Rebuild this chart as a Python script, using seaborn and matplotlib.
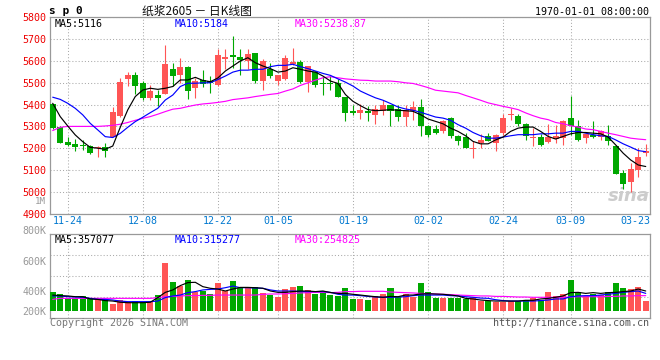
import numpy as np
import pandas as pd
import matplotlib
matplotlib.use("Agg")
import matplotlib.pyplot as plt
import seaborn as sns
from matplotlib.ticker import FixedLocator

# ---------------- data ----------------
opens = [5402, 5296, 5230, 5220, 5215, 5210, 5202, 5204, 5253, 5348,
         5519, 5536, 5501, 5429, 5444, 5447, 5564, 5535, 5574, 5475,
         5513, 5510, 5488, 5611, 5626, 5620, 5600, 5635, 5508, 5565,
         5508, 5518, 5586, 5597, 5503, 5549, 5500, 5500, 5500, 5435,
         5372, 5362, 5369, 5354, 5369, 5400, 5382, 5342, 5369, 5389,
         5303, 5289, 5280, 5338, 5257, 5250, 5198, 5223, 5254, 5223,
         5272, 5352, 5349, 5312, 5249, 5250, 5227, 5242, 5246, 5338,
         5300, 5246, 5261, 5250, 5254, 5211, 5088, 5045, 5100, 5177]
highs = [5405, 5302, 5250, 5241, 5238, 5213, 5210, 5223, 5388, 5524,
         5550, 5550, 5510, 5489, 5467, 5674, 5593, 5612, 5577, 5521,
         5559, 5531, 5655, 5654, 5715, 5654, 5654, 5635, 5608, 5592,
         5535, 5626, 5661, 5605, 5577, 5554, 5531, 5531, 5518, 5435,
         5400, 5404, 5392, 5400, 5423, 5400, 5400, 5400, 5415, 5427,
         5308, 5308, 5331, 5343, 5262, 5272, 5231, 5265, 5272, 5265,
         5358, 5385, 5358, 5315, 5292, 5265, 5312, 5308, 5331, 5438,
         5331, 5266, 5323, 5284, 5308, 5215, 5100, 5131, 5200, 5220]
lows = [5290, 5223, 5210, 5189, 5192, 5174, 5161, 5161, 5250, 5345,
        5486, 5449, 5421, 5421, 5394, 5447, 5487, 5498, 5424, 5429,
        5483, 5455, 5485, 5565, 5569, 5538, 5565, 5500, 5469, 5523,
        5488, 5515, 5580, 5500, 5457, 5481, 5446, 5469, 5435, 5323,
        5354, 5334, 5323, 5312, 5354, 5300, 5323, 5300, 5331, 5258,
        5250, 5265, 5272, 5246, 5215, 5200, 5154, 5200, 5231, 5188,
        5261, 5331, 5303, 5238, 5208, 5208, 5223, 5223, 5215, 5262,
        5231, 5223, 5246, 5238, 5215, 5080, 5011, 4998, 5069, 5162]
closes = [5294, 5226, 5215, 5207, 5210, 5180, 5205, 5189, 5368, 5504,
          5536, 5487, 5429, 5463, 5432, 5587, 5533, 5571, 5464, 5510,
          5495, 5501, 5626, 5620, 5620, 5605, 5631, 5508, 5600, 5531,
          5535, 5615, 5597, 5503, 5577, 5492, 5493, 5495, 5435, 5362,
          5362, 5377, 5362, 5382, 5400, 5369, 5342, 5377, 5389, 5300,
          5261, 5272, 5326, 5254, 5231, 5200, 5200, 5238, 5234, 5261,
          5338, 5355, 5311, 5254, 5251, 5215, 5250, 5254, 5323, 5300,
          5238, 5265, 5250, 5277, 5231, 5080, 5034, 5103, 5161, 5185]

ma5 = [5406, 5345, 5302, 5261, 5230, 5204, 5200, 5195, 5210, 5296,
       5376, 5437, 5467, 5475, 5470, 5475, 5483, 5513, 5513, 5525,
       5511, 5505, 5522, 5554, 5577, 5600, 5615, 5592, 5577, 5565,
       5549, 5554, 5569, 5562, 5554, 5549, 5531, 5508, 5497, 5446,
       5415, 5395, 5377, 5372, 5374, 5377, 5374, 5372, 5369, 5354,
       5334, 5323, 5312, 5292, 5277, 5257, 5231, 5220, 5220, 5238,
       5251, 5277, 5292, 5297, 5297, 5277, 5254, 5242, 5254, 5266,
       5272, 5272, 5269, 5266, 5251, 5215, 5177, 5146, 5123, 5116]
ma10 = [5434, 5424, 5406, 5383, 5353, 5314, 5284, 5253, 5249, 5268,
        5296, 5322, 5342, 5363, 5383, 5421, 5444, 5483, 5498, 5498,
        5500, 5500, 5515, 5531, 5549, 5558, 5558, 5562, 5562, 5574,
        5580, 5580, 5585, 5574, 5565, 5554, 5543, 5534, 5518, 5503,
        5485, 5462, 5446, 5431, 5420, 5405, 5389, 5380, 5374, 5365,
        5354, 5343, 5338, 5328, 5308, 5292, 5272, 5257, 5246, 5246,
        5251, 5257, 5262, 5262, 5262, 5266, 5266, 5269, 5269, 5277,
        5277, 5269, 5262, 5257, 5254, 5238, 5220, 5205, 5189, 5184]
ma30 = [5281, 5296, 5300, 5300, 5300, 5300, 5300, 5302, 5305, 5310,
        5318, 5328, 5337, 5345, 5356, 5368, 5379, 5383, 5391, 5398,
        5403, 5406, 5410, 5415, 5423, 5427, 5431, 5437, 5442, 5447,
        5451, 5462, 5472, 5488, 5500, 5512, 5523, 5528, 5523, 5518,
        5515, 5512, 5511, 5508, 5508, 5508, 5505, 5500, 5497, 5488,
        5478, 5466, 5462, 5458, 5454, 5442, 5431, 5420, 5408, 5400,
        5392, 5385, 5377, 5362, 5349, 5338, 5331, 5318, 5312, 5303,
        5297, 5288, 5285, 5277, 5269, 5262, 5254, 5246, 5242, 5239]

# volume, in thousands, on the panel's labelled scale
volumes = [393, 380, 351, 351, 369, 347, 347, 347, 313, 340,
           325, 333, 325, 325, 373, 589, 460, 433, 473, 396,
           402, 380, 453, 400, 467, 418, 418, 427, 384, 373,
           362, 413, 427, 433, 407, 380, 384, 373, 367, 422,
           347, 347, 340, 367, 380, 422, 362, 380, 362, 453,
           391, 353, 353, 353, 353, 347, 362, 333, 333, 329,
           329, 333, 333, 340, 351, 340, 391, 369, 380, 473,
           391, 369, 378, 373, 393, 453, 422, 413, 429, 333]
vol_ma5 = [373, 369, 367, 362, 362, 347, 344, 336, 333, 325,
           322, 322, 322, 325, 356, 391, 407, 436, 456, 458,
           429, 418, 413, 400, 413, 424, 424, 422, 418, 400,
           391, 391, 396, 400, 400, 396, 400, 390, 384, 384,
           378, 373, 367, 362, 358, 364, 362, 373, 373, 380,
           382, 380, 378, 373, 367, 351, 347, 340, 336, 333,
           333, 333, 333, 338, 338, 347, 351, 358, 367, 389,
           391, 384, 389, 384, 389, 391, 396, 400, 413, 400]
vol_ma10 = [367, 367, 362, 360, 358, 351, 344, 344, 340, 333,
            329, 329, 329, 329, 333, 356, 367, 373, 389, 396,
            407, 411, 413, 422, 433, 422, 422, 420, 418, 407,
            400, 400, 400, 396, 396, 396, 396, 391, 378, 373,
            373, 369, 364, 360, 358, 358, 360, 362, 369, 373,
            373, 373, 373, 369, 367, 362, 358, 353, 351, 342,
            336, 333, 333, 333, 333, 336, 340, 347, 347, 362,
            367, 369, 369, 373, 378, 384, 391, 396, 400, 384]
vol_ma30 = [344, 351, 351, 351, 351, 351, 351, 351, 351, 351,
            351, 351, 351, 351, 356, 362, 364, 367, 369, 369,
            371, 371, 373, 373, 373, 373, 373, 373, 378, 380,
            380, 382, 384, 387, 389, 391, 391, 389, 391, 396,
            396, 398, 398, 398, 398, 393, 391, 389, 387, 384,
            382, 380, 378, 376, 373, 371, 369, 367, 367, 364,
            364, 362, 360, 360, 358, 358, 358, 358, 358, 360,
            362, 362, 362, 362, 364, 364, 367, 367, 369, 369]

date_labels = ["11-24", "12-08", "12-22", "01-05", "01-19", "02-02", "02-24", "03-09", "03-23"]
date_index = [2, 12, 22, 30, 40, 50, 60, 69, 79]
price_ticks = [4900, 5000, 5100, 5200, 5300, 5400, 5500, 5600, 5700, 5800]
vol_tick_labels = ["200K", "400K", "600K", "800K", "1M"]
vol_tick_values = [269, 400, 600, 800, 1000]

legend_price = ["MA5:5116", "MA10:5184", "MA30:5238.87"]
legend_vol = ["MA5:357077", "MA10:315277", "MA30:254825"]

# ---------------- styling ----------------
sns.set_theme(style="white")
plt.rcParams["font.family"] = ["DejaVu Sans Mono", "Noto Sans CJK SC"]

RED = "#FF5555"
GREEN = "#00A800"
GRID = "#AAAAAA"
FRAME = "#999999"
MONO = 7.2
LW = 0.85

W, H = 660, 360
fig = plt.figure(figsize=(6.6, 3.6), dpi=100)
fig.patch.set_facecolor("white")


def fx(px):
    return px / W


def fy(py):
    return 1 - py / H


ax = fig.add_axes([fx(50), fy(213.6), (650 - 50) / W, (213.6 - 17.4) / H])
axv = fig.add_axes([fx(50), fy(317.7), (650 - 50) / W, (317.7 - 234) / H])

n = len(closes)
df = pd.DataFrame({"i": np.arange(n), "open": opens, "high": highs, "low": lows,
                   "close": closes, "ma5": ma5, "ma10": ma10, "ma30": ma30,
                   "vol": volumes, "vma5": vol_ma5, "vma10": vol_ma10, "vma30": vol_ma30})
df["up"] = df["close"] >= df["open"]
df["color"] = np.where(df["up"], RED, GREEN)

xmin, xmax = -0.36, 79.57
for a in (ax, axv):
    a.set_xlim(xmin, xmax)
    a.set_facecolor("white")
    for s in a.spines.values():
        s.set_visible(True)
        s.set_color(FRAME)
        s.set_linewidth(0.9)
    a.tick_params(length=0)

# ---------- price panel ----------
ax.set_ylim(4900, 5800)
body_w = 0.8
body_bottom = np.minimum(df["open"], df["close"])
body_h = np.maximum(np.abs(df["close"] - df["open"]), 4)
ax.vlines(df["i"], df["low"], df["high"], colors=df["color"], linewidth=0.8, zorder=3)
ax.bar(df["i"], body_h, bottom=body_bottom, width=body_w, color=df["color"],
       linewidth=0, zorder=4)
sns.lineplot(data=df, x="i", y="ma30", ax=ax, color="#FF00FF", linewidth=LW, zorder=5)
sns.lineplot(data=df, x="i", y="ma10", ax=ax, color="#0000FF", linewidth=LW, zorder=6)
sns.lineplot(data=df, x="i", y="ma5", ax=ax, color="#000000", linewidth=LW, zorder=7)
ax.set_xlabel("")
ax.set_ylabel("")

ax.yaxis.set_major_locator(FixedLocator(price_ticks))
ax.set_yticklabels([str(t) for t in price_ticks], color="#EE0000", fontsize=MONO)
ax.tick_params(axis="y", pad=2.6)

xt = list(date_index[:-1]) + [xmax]
ax.xaxis.set_major_locator(FixedLocator(xt))
ax.set_xticklabels(date_labels, color="#0078D0", fontsize=MONO)
ax.tick_params(axis="x", pad=2.0)
ax.get_xticklabels()[-1].set_ha("right")

ax.grid(True, which="major", color=GRID, linestyle=(0, (1, 2)), linewidth=0.75)
ax.set_axisbelow(True)

ax.text(0.008, 0.965, legend_price[0], transform=ax.transAxes, color="black",
        fontsize=MONO, ha="left", va="center")
ax.text(0.207, 0.965, legend_price[1], transform=ax.transAxes, color="#0000FF",
        fontsize=MONO, ha="left", va="center")
ax.text(0.408, 0.965, legend_price[2], transform=ax.transAxes, color="#FF00FF",
        fontsize=MONO, ha="left", va="center")

# watermark
ax.text(0.999, 0.09, "sina", transform=ax.transAxes, color="#CCCCCC", fontsize=13,
        fontstyle="italic", fontweight="bold", family="DejaVu Sans", ha="right",
        va="center", zorder=2)

# ---------- volume panel ----------
vbase = vol_tick_values[0]
axv.set_ylim(222, 780)
axv.bar(df["i"], df["vol"] - vbase, bottom=vbase, width=body_w, color=df["color"],
        linewidth=0, zorder=3)
sns.lineplot(data=df, x="i", y="vma30", ax=axv, color="#FF00FF", linewidth=LW, zorder=5)
sns.lineplot(data=df, x="i", y="vma10", ax=axv, color="#0000FF", linewidth=LW, zorder=6)
sns.lineplot(data=df, x="i", y="vma5", ax=axv, color="#000000", linewidth=LW, zorder=7)
axv.set_xlabel("")
axv.set_ylabel("")

axv.xaxis.set_major_locator(FixedLocator(xt))
axv.set_xticklabels([])
axv.yaxis.set_major_locator(FixedLocator(vol_tick_values[:3]))
axv.set_yticklabels(vol_tick_labels[:3], color="#999999", fontsize=MONO)
axv.tick_params(axis="y", pad=2.6)
lo, hi = axv.get_ylim()
axv.yaxis.set_minor_locator(FixedLocator([lo + (hi - lo) * f for f in (0.25, 0.5, 0.75)]))
axv.tick_params(which="minor", length=0)
axv.grid(True, which="minor", axis="y", color=GRID, linestyle=(0, (1, 2)), linewidth=0.75)
axv.grid(True, which="major", axis="x", color=GRID, linestyle=(0, (1, 2)), linewidth=0.75)
axv.set_axisbelow(True)

for v, lab in zip(vol_tick_values[3:], vol_tick_labels[3:]):
    axv.text(-0.0067, v, lab, transform=axv.get_yaxis_transform(), color="#999999",
             fontsize=MONO if lab != "1M" else 6.6, ha="right", va="center", clip_on=False)

axv.text(0.008, 0.93, legend_vol[0], transform=axv.transAxes, color="black",
         fontsize=MONO, ha="left", va="center")
axv.text(0.208, 0.93, legend_vol[1], transform=axv.transAxes, color="#0000FF",
         fontsize=MONO, ha="left", va="center")
axv.text(0.408, 0.93, legend_vol[2], transform=axv.transAxes, color="#FF00FF",
         fontsize=MONO, ha="left", va="center")

# ---------- header / footer ----------
fig.text(fx(49), fy(11.5), "s p 0", fontsize=8, fontweight="bold", color="black",
         ha="left", va="center")
fig.text(fx(142), fy(11.5), "纸浆2605 － 日K线图", fontsize=8.5, color="#111111",
         family=["Noto Sans CJK SC", "DejaVu Sans"], ha="left", va="center")
fig.text(fx(649), fy(12.3), "1970-01-01 08:00:00", fontsize=MONO, color="black",
         ha="right", va="center")
fig.text(fx(50), fy(323.5), "Copyright 2026 SINA.COM", fontsize=MONO, color="#777777",
         ha="left", va="center")
fig.text(fx(649), fy(323.5), "http://finance.sina.com.cn", fontsize=MONO, color="#555555",
         ha="right", va="center")

fig.savefig("out.png", dpi=100, facecolor="white")
